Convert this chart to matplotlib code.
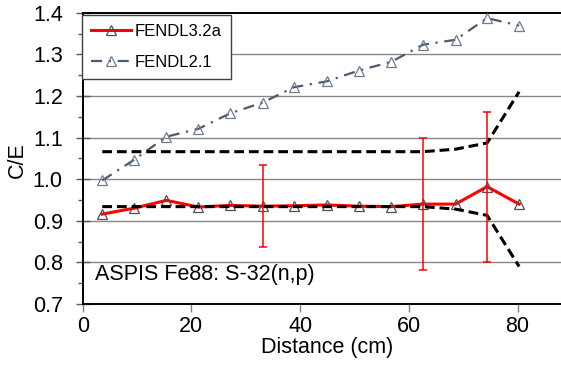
import numpy as np
import matplotlib.pyplot as plt

# distances (cm) and C/E values
dist = [3.6, 9.4, 15.4, 21.3, 27.1, 33.1, 38.9, 44.9, 50.8, 56.8, 62.6, 68.6, 74.4, 80.3]
ce_fendl32a = [0.916, 0.930, 0.949, 0.933, 0.937, 0.935, 0.936, 0.938, 0.935, 0.934, 0.940, 0.940, 0.982, 0.940]
ce_fendl21 = [0.997, 1.046, 1.102, 1.121, 1.158, 1.184, 1.221, 1.235, 1.261, 1.282, 1.323, 1.335, 1.387, 1.369]
# experimental uncertainty band (1 +/- u)
unc = [0.066, 0.066, 0.066, 0.066, 0.066, 0.066, 0.066, 0.066, 0.066, 0.066, 0.066, 0.072, 0.087, 0.210]
# error bars shown on three points only
err_idx = [5, 10, 12]
err_size = [0.099, 0.159, 0.180]

plt.rcParams['font.family'] = ['Liberation Sans', 'DejaVu Sans']

fig = plt.figure(figsize=(5.61, 3.67), dpi=100)
ax = fig.add_axes([0.1474, 0.1717, 0.8526, 0.7937])

ax.set_xlim(0, 88)
ax.set_ylim(0.7, 1.4)

# gridlines
for yv in np.arange(0.8, 1.35, 0.1):
    ax.axhline(yv, color='#868686', lw=1.0, zorder=1)

d = np.array(dist)
u = np.array(unc)
ax.plot(d, 1 + u, color='black', lw=2.2, dashes=(3.2, 1.6), zorder=4)
ax.plot(d, 1 - u, color='black', lw=2.2, dashes=(3.2, 1.6), zorder=4)

ax.plot(dist, ce_fendl32a, color='#ff0000', lw=2.2, marker='^', ms=7.5,
        mfc='none', mec='#505050', mew=0.9, label='FENDL3.2a', zorder=3)
ax.plot(dist, ce_fendl21, color='#4A5A70', lw=1.6, dashes=(5, 3, 1, 3),
        marker='^', ms=6.5, mfc='none', mec='#6E7B8F', mew=0.9,
        label='FENDL2.1', zorder=3)

ex = [dist[i] for i in err_idx]
ey = [ce_fendl32a[i] for i in err_idx]
ax.errorbar(ex, ey, yerr=err_size, fmt='none', ecolor='#ff0000',
            elinewidth=1.1, capsize=3.0, capthick=1.1, zorder=5)

ax.text(2.2, 0.758, 'ASPIS Fe88: S-32(n,p)', fontsize=15.5, va='baseline')

# axes styling
ax.spines['right'].set_visible(False)
for s in ['left', 'bottom', 'top']:
    ax.spines[s].set_color('black')
    ax.spines[s].set_linewidth(1.4)

ax.set_xticks([0, 20, 40, 60, 80])
ax.set_yticks(np.round(np.arange(0.7, 1.41, 0.1), 1))
ax.set_yticklabels(['%.1f' % v for v in np.arange(0.7, 1.41, 0.1)])
ax.set_yticks(np.arange(0.75, 1.4, 0.1), minor=True)
ax.tick_params(axis='y', which='major', direction='inout', length=9.7,
               width=1.0, color='#595959', labelsize=15.5, pad=9.5)
ax.tick_params(axis='y', which='minor', direction='out', length=3.6,
               width=1.0, color='#595959')
ax.tick_params(axis='x', which='major', direction='out', length=5.8,
               width=1.0, color='#808080', labelsize=15.5, pad=3)

ax.set_xlabel('Distance (cm)', fontsize=15.5)
ax.xaxis.set_label_coords(0.512, -0.113)
ax.set_ylabel('C/E', fontsize=15.5)
ax.yaxis.set_label_coords(-0.114, 0.494)

leg = ax.legend(loc='upper left', bbox_to_anchor=(-0.002, 0.992), fontsize=12,
                frameon=True, fancybox=False, framealpha=1, edgecolor='#404040',
                borderaxespad=0, borderpad=0.55, handlelength=2.4,
                handletextpad=0.25, labelspacing=0.95)
leg.get_frame().set_linewidth(1.0)
leg.set_zorder(10)

fig.savefig('out.png', dpi=100)
